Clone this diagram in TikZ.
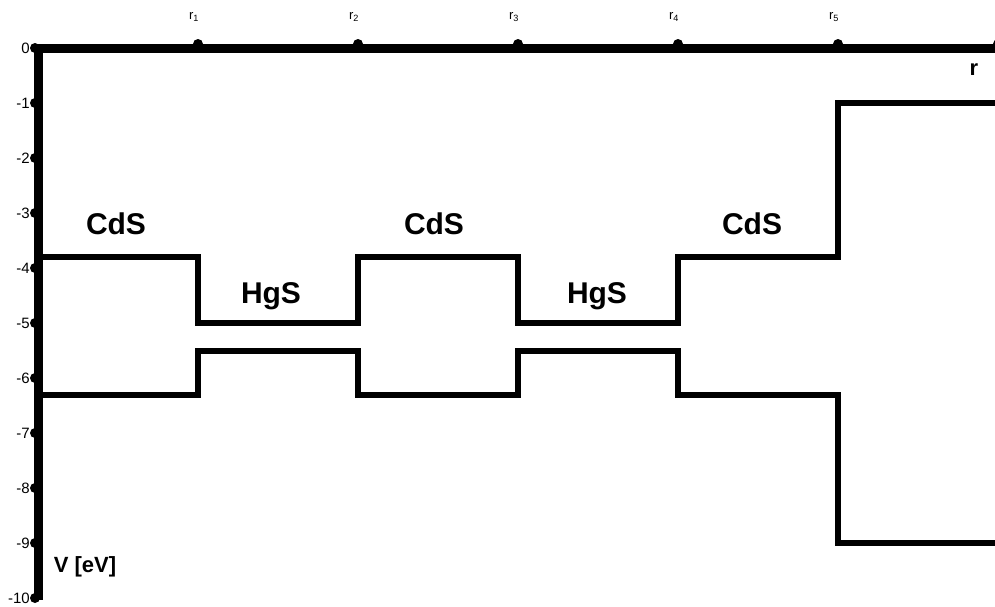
\documentclass[tikz,border=0pt]{standalone}
\usepackage{fontspec}
\setmainfont{Liberation Sans}
\begin{document}
\begin{tikzpicture}[x=1pt,y=-1pt,
  axisline/.style={line width=9pt},
  bandline/.style={line width=5.5pt},
  tickdot/.style={fill=black,radius=5pt},
  ylab/.style={anchor=east,inner sep=0pt,font=\fontsize{15}{15}\selectfont},
  rlab/.style={inner sep=0pt,font=\fontsize{13}{13}\selectfont},
  layer/.style={inner sep=0pt,font=\fontsize{30}{30}\selectfont\bfseries},
  axlab/.style={inner sep=0pt,font=\fontsize{22}{22}\selectfont\bfseries}]
\useasboundingbox (0,0) rectangle (995,606);
% axes
\coordinate (O) at (38.5,48);
\coordinate (xend) at (1003,48);
\coordinate (yend) at (38.5,600);
\draw[axisline] (yend) -- (O) -- (xend);
% radial ticks r1..r6
\foreach \i in {1,...,6}{
  \fill[tickdot] (38+160*\i,44) circle;
}
\foreach \i in {1,...,5}{
  \node[rlab] (r\i) at (194+160*\i-160,17) {r\textsubscript{\i}};
}
% energy ticks
\foreach \v in {0,...,10}{
  \fill[tickdot] (35,48+55*\v) circle;
}
\node[ylab] (y0) at (30,48) {0};
\foreach \v in {1,...,10}{
  \node[ylab] (y\v) at (30,48+55*\v) {-\v};
}
% conduction band edge
\draw[bandline] (38,257) -- (198,257) -- (198,323) -- (358,323) -- (358,257)
  -- (518,257) -- (518,323) -- (678,323) -- (678,257) -- (838,257)
  -- (838,103) -- (1000,103);
% valence band edge
\draw[bandline] (38,395) -- (198,395) -- (198,351) -- (358,351) -- (358,395)
  -- (518,395) -- (518,351) -- (678,351) -- (678,395) -- (838,395)
  -- (838,543) -- (1000,543);
% layer labels
\node[layer] (cds1) at (116,224) {CdS};
\node[layer] (hgs1) at (271,296) {HgS};
\node[layer] (cds2) at (434,224) {CdS};
\node[layer] (hgs2) at (597,296) {HgS};
\node[layer] (cds3) at (752,224) {CdS};
% axis labels
\node[axlab] (rlabel) at (974,70) {r};
\node[axlab] (vlabel) at (85,567) {V [eV]};
\end{tikzpicture}
\end{document}
